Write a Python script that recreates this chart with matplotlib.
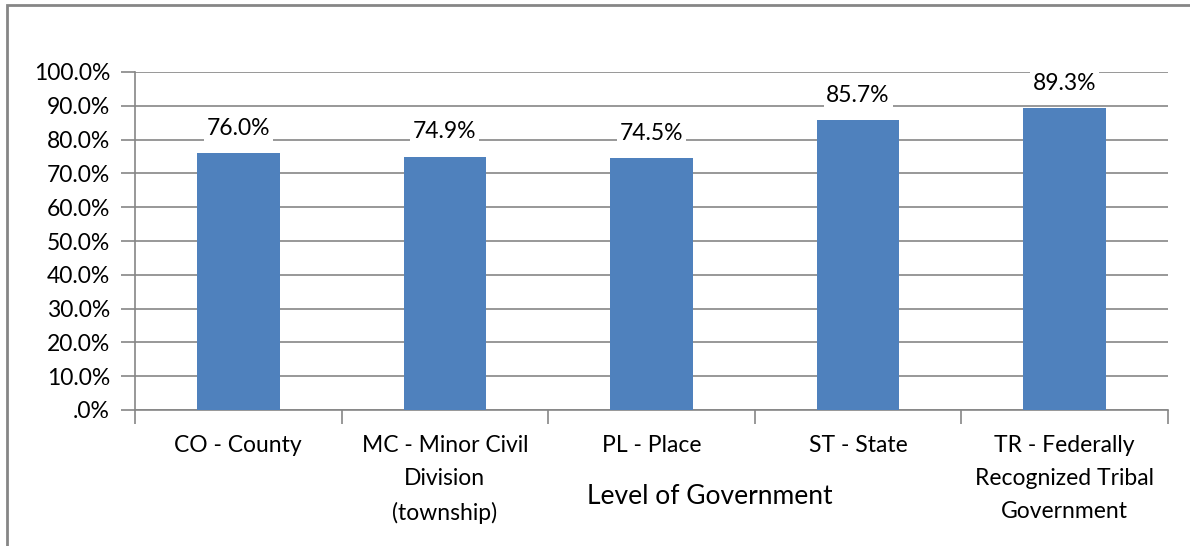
import matplotlib
matplotlib.use("Agg")
import matplotlib.pyplot as plt
from matplotlib.patches import Rectangle
from matplotlib.ticker import FuncFormatter, MultipleLocator

categories = ["CO - County", "MC - Minor Civil\nDivision\n(township)", "PL - Place",
              "ST - State", "TR - Federally\nRecognized Tribal\nGovernment"]
values = [76.0, 74.9, 74.5, 85.7, 89.3]
xlabel = "Level of Government"

FONT = ["Lato", "DejaVu Sans"]
plt.rcParams['font.family'] = FONT

W, H = 1190, 546
fig = plt.figure(figsize=(W / 100, H / 100), dpi=100)
fig.patch.set_facecolor("white")

# outer chart frame
frame = Rectangle((7 / W, -0.1), 1.2, 1 - 5 / H + 0.1, transform=fig.transFigure,
                  fill=False, edgecolor="#868686", linewidth=2)
fig.patches.append(frame)

ax = fig.add_axes([135 / W, (H - 410) / H, (1168 - 135) / W, (410 - 72) / H])
grey = "#868686"
x = list(range(len(categories)))
ax.bar(x, values, width=0.4, color="#4F81BD", zorder=3)
ax.set_xlim(-0.5, len(categories) - 0.5)
ax.set_ylim(0, 100)
ax.yaxis.set_major_locator(MultipleLocator(10))
ax.yaxis.set_major_formatter(FuncFormatter(lambda v, p: ".0%" if v == 0 else f"{v:.1f}%"))
ax.grid(axis="y", color=grey, linewidth=1.2, zorder=0)
for s in ["top", "right"]:
    ax.spines[s].set_visible(False)
for s in ["left", "bottom"]:
    ax.spines[s].set_color(grey)
    ax.spines[s].set_linewidth(1.2)

ax.set_xticks([i - 0.5 for i in range(len(categories) + 1)])
ax.set_xticklabels([])
ax.set_xticks(x, minor=True)
ax.set_xticklabels(categories, minor=True, fontsize=16.5, linespacing=1.72)
ax.tick_params(axis="x", which="major", length=10, color=grey, width=1.2, direction="out")
ax.tick_params(axis="x", which="minor", length=0, pad=18)
ax.tick_params(axis="y", length=10, color=grey, width=1.2, labelsize=16.5, pad=8)

for xi, v in zip(x, values):
    ax.text(xi, v + 7.4, f"{v:.1f}%", ha="center", va="center", fontsize=16.5,
            bbox=dict(facecolor="white", edgecolor="none", pad=2), zorder=4)

fig.text(710 / W, 1 - 497 / H, xlabel, ha="center", va="center", fontsize=19)

fig.savefig("out.png", dpi=100, facecolor="white")
